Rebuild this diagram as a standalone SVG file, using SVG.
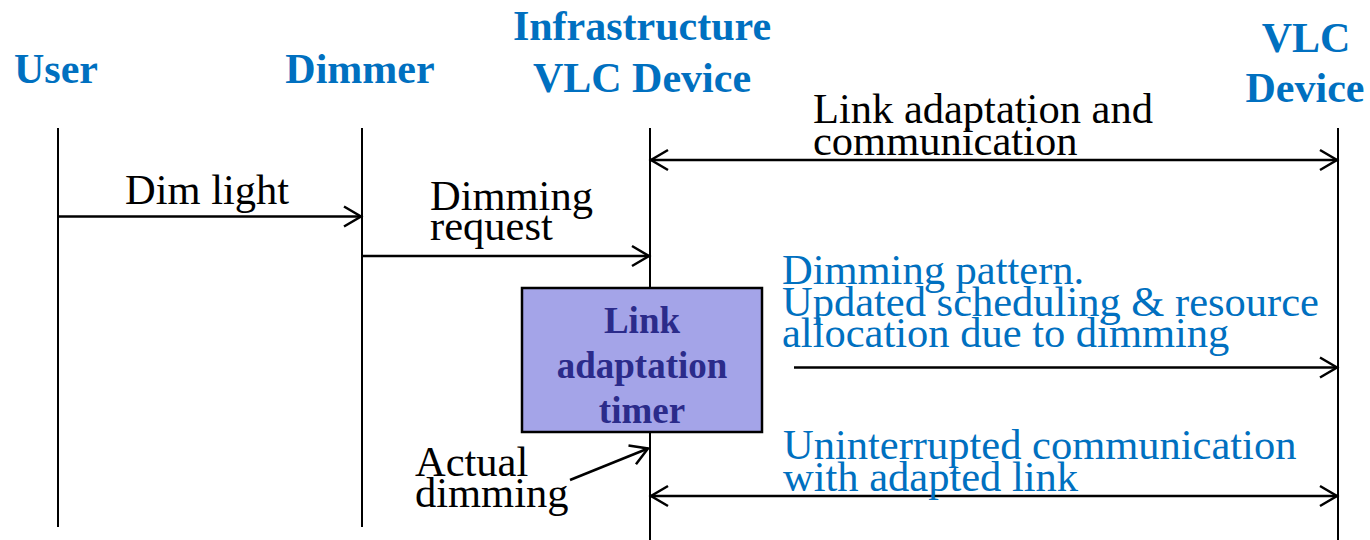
<svg xmlns="http://www.w3.org/2000/svg" width="1370" height="540" viewBox="0 0 1370 540">
  <style>
    .head { font-family: "Liberation Serif", "Times New Roman", serif; font-weight: bold; font-size: 42px; fill: #0070c0; text-anchor: middle; }
    .lbl { font-family: "Liberation Serif", "Times New Roman", serif; font-size: 42.5px; fill: #000000; }
    .lbl.blue { fill: #0070c0; }
    .life { stroke: #000000; stroke-width: 2; fill: none; }
    .msg { stroke: #000000; stroke-width: 2.5; fill: none; }
    .timer-box { fill: #a4a4e8; stroke: #000000; stroke-width: 2.5; }
    .timer-txt { font-family: "Liberation Serif", "Times New Roman", serif; font-weight: bold; font-size: 37px; fill: #2b2b8a; text-anchor: middle; }
  </style>
  <defs>
    <marker id="chev" markerUnits="userSpaceOnUse" markerWidth="24" markerHeight="26" viewBox="-20 -12 24 24" refX="0" refY="0" orient="auto-start-reverse">
      <path d="M-17,-10 L0,0 L-17,10" fill="none" stroke="#000000" stroke-width="2.5"/>
    </marker>
  </defs>

  <rect width="1370" height="540" fill="#ffffff"/>

  <!-- participants with their lifelines -->
  <g id="user">
    <text class="head" x="56" y="83">User</text>
    <line class="life" x1="58" y1="128" x2="58" y2="527"/>
  </g>
  <g id="dimmer">
    <text class="head" x="360" y="83">Dimmer</text>
    <line class="life" x1="362" y1="128" x2="362" y2="527"/>
  </g>
  <g id="infra-vlc">
    <text class="head" x="642" y="40">Infrastructure</text>
    <text class="head" x="642" y="92">VLC Device</text>
    <line class="life" x1="650" y1="128" x2="650" y2="540"/>
  </g>
  <g id="vlc-device">
    <text class="head" x="1306" y="52">VLC</text>
    <text class="head" x="1305" y="102">Device</text>
    <line class="life" x1="1338" y1="128" x2="1338" y2="540"/>
  </g>

  <!-- timer activation on the infrastructure device -->
  <g id="timer">
    <rect class="timer-box" x="522" y="288" width="240" height="144"/>
    <text class="timer-txt" x="642" y="333">Link</text>
    <text class="timer-txt" x="642" y="378">adaptation</text>
    <text class="timer-txt" x="642" y="423">timer</text>
  </g>

  <!-- messages -->
  <g id="connectors">
    <line class="msg" x1="651" y1="160" x2="1337" y2="160" marker-start="url(#chev)" marker-end="url(#chev)"/>
    <line class="msg" x1="58" y1="216.5" x2="361" y2="216.5" marker-end="url(#chev)"/>
    <line class="msg" x1="362" y1="256" x2="649" y2="256" marker-end="url(#chev)"/>
    <line class="msg" x1="794" y1="367.5" x2="1337" y2="367.5" marker-end="url(#chev)"/>
    <line class="msg" x1="570" y1="480" x2="648" y2="448.5" marker-end="url(#chev)"/>
    <line class="msg" x1="651" y1="496" x2="1337" y2="496" marker-start="url(#chev)" marker-end="url(#chev)"/>
  </g>

  <!-- message labels -->
  <g id="labels">
    <text class="lbl" x="813" y="123">Link adaptation and</text>
    <text class="lbl" x="813" y="155">communication</text>
    <text class="lbl" x="125" y="204">Dim light</text>
    <text class="lbl" x="430" y="210">Dimming</text>
    <text class="lbl" x="430" y="240">request</text>
    <text class="lbl blue" x="782" y="284">Dimming pattern.</text>
    <text class="lbl blue" x="782" y="315.5">Updated scheduling &amp; resource</text>
    <text class="lbl blue" x="782" y="347">allocation due to dimming</text>
    <text class="lbl blue" x="783" y="459">Uninterrupted communication</text>
    <text class="lbl blue" x="783" y="491">with adapted link</text>
    <text class="lbl" x="415" y="476">Actual</text>
    <text class="lbl" x="415" y="507">dimming</text>
  </g>
</svg>
